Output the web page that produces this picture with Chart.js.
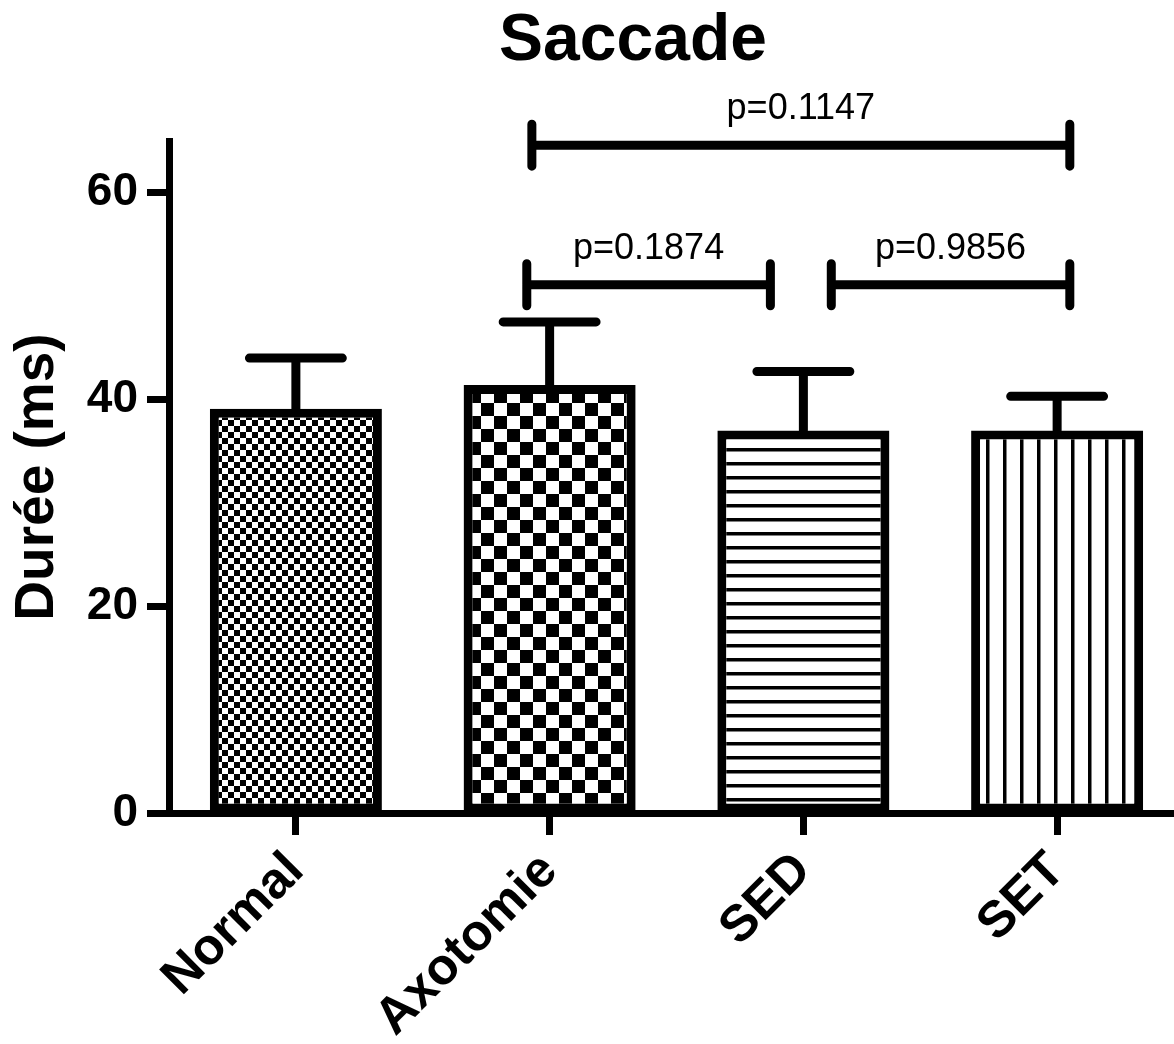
<!DOCTYPE html>
<html>
<head>
<meta charset="utf-8">
<script src="https://cdn.jsdelivr.net/npm/chart.js@4"></script>
<style>
  html, body { margin: 0; padding: 0; background: #fff; overflow: hidden; }
  canvas { display: block; }
</style>
</head>
<body>
<canvas id="durChart" width="1184" height="1044"></canvas>
<script>
  // ---- DATA ----
  const groups = ['Normal', 'Axotomie', 'SED', 'SET'];
  const meanDur = [39.1, 41.4, 37.0, 37.0];
  const semDur = [4.9, 6.1, 5.7, 3.3];
  const yTicks = [0, 20, 40, 60];

  // comparison brackets (category index units, value units)
  const cmpFrom = [0.93, 0.91, 2.11];
  const cmpTo = [3.05, 1.87, 3.05];
  const cmpLevel = [64.6, 51.1, 51.1];
  const cmpText = ['p=0.1147', 'p=0.1874', 'p=0.9856'];

  const chartTitle = 'Saccade';
  const FONT = '"Liberation Sans", Arial, Helvetica, sans-serif';

  // ---- fill patterns ----
  function checker(size) {
    const c = document.createElement('canvas');
    c.width = c.height = size * 2;
    const g = c.getContext('2d');
    g.fillStyle = '#fff'; g.fillRect(0, 0, size * 2, size * 2);
    g.fillStyle = '#000';
    g.fillRect(0, 0, size, size);
    g.fillRect(size, size, size, size);
    return g.createPattern(c, 'repeat');
  }
  function stripes(period, w, vertical) {
    const c = document.createElement('canvas');
    c.width = c.height = period;
    const g = c.getContext('2d');
    g.fillStyle = '#fff'; g.fillRect(0, 0, period, period);
    g.fillStyle = '#000';
    if (vertical) g.fillRect(0, 0, w, period);
    else g.fillRect(0, 0, period, w);
    return g.createPattern(c, 'repeat');
  }
  const fills = [checker(6), checker(13), stripes(14, 3.5, false), stripes(17, 3.5, true)];

  // ---- title, error bars, p-value brackets ----
  const annot = {
    id: 'annot',
    afterDatasetsDraw(chart) {
      const { ctx, scales: { x, y } } = chart;
      const bars = chart.getDatasetMeta(0).data;
      ctx.save();

      // title (centred a bit left of the canvas middle, like the original)
      ctx.fillStyle = '#000';
      ctx.font = 'bold 66px ' + FONT;
      ctx.textAlign = 'center';
      ctx.textBaseline = 'middle';
      ctx.fillText(chartTitle, 633, 42);

      ctx.strokeStyle = '#000';
      ctx.lineCap = 'round';
      ctx.lineWidth = 9;
      meanDur.forEach((m, i) => {
        const px = x.getPixelForValue(i);
        const base = y.getPixelForValue(m);
        const top = y.getPixelForValue(m + semDur[i]);
        const half = bars[i].width * 0.27;
        ctx.beginPath();
        ctx.moveTo(px, base); ctx.lineTo(px, top);
        ctx.moveTo(px - half, top); ctx.lineTo(px + half, top);
        ctx.stroke();
      });

      ctx.font = '36px ' + FONT;
      ctx.textBaseline = 'alphabetic';
      cmpText.forEach((t, k) => {
        const x0 = x.getPixelForValue(cmpFrom[k]);
        const x1 = x.getPixelForValue(cmpTo[k]);
        const py = y.getPixelForValue(cmpLevel[k]);
        ctx.beginPath();
        ctx.moveTo(x0, py); ctx.lineTo(x1, py);
        ctx.moveTo(x0, py - 21); ctx.lineTo(x0, py + 21);
        ctx.moveTo(x1, py - 21); ctx.lineTo(x1, py + 21);
        ctx.stroke();
        ctx.fillText(t, (x0 + x1) / 2, py - 26);
      });
      ctx.restore();
    }
  };

  // ---- CHART ----
  new Chart(document.getElementById('durChart').getContext('2d'), {
    type: 'bar',
    data: {
      labels: groups,
      datasets: [{
        data: meanDur,
        backgroundColor: fills,
        borderColor: '#000',
        borderWidth: 9,
        borderSkipped: false,
        categoryPercentage: 1,
        barPercentage: 0.678
      }]
    },
    options: {
      responsive: false,
      animation: false,
      devicePixelRatio: 1,
      layout: { padding: { top: 141, left: 0, right: 0, bottom: 0 } },
      plugins: {
        legend: { display: false },
        tooltip: { enabled: false },
        title: { display: false }
      },
      scales: {
        x: {
          offset: true,
          grid: { display: true, offset: false, drawOnChartArea: false, drawTicks: true, tickLength: 22, tickWidth: 7, tickColor: '#000' },
          border: { display: true, color: '#000', width: 7 },
          ticks: {
            color: '#000', autoSkip: false, minRotation: 45, maxRotation: 45, padding: 6,
            font: { family: FONT, size: 51, weight: 'bold' }
          },
          afterFit(scale) { scale.height = 231; }
        },
        y: {
          min: 0, max: 65,
          afterBuildTicks(scale) { scale.ticks = yTicks.map(v => ({ value: v })); },
          grid: { display: true, drawOnChartArea: false, drawTicks: true, tickLength: 22, tickWidth: 7, tickColor: '#000' },
          border: { display: true, color: '#000', width: 7 },
          ticks: {
            color: '#000', padding: 9,
            font: { family: FONT, size: 46, weight: 'bold' }
          },
          title: {
            display: true, text: 'Durée (ms)', color: '#000',
            font: { family: FONT, size: 55, weight: 'bold' },
            padding: { top: 5, bottom: 0 }
          },
          afterFit(scale) { scale.width = 169; }
        }
      }
    },
    plugins: [annot]
  });
</script>
</body>
</html>
